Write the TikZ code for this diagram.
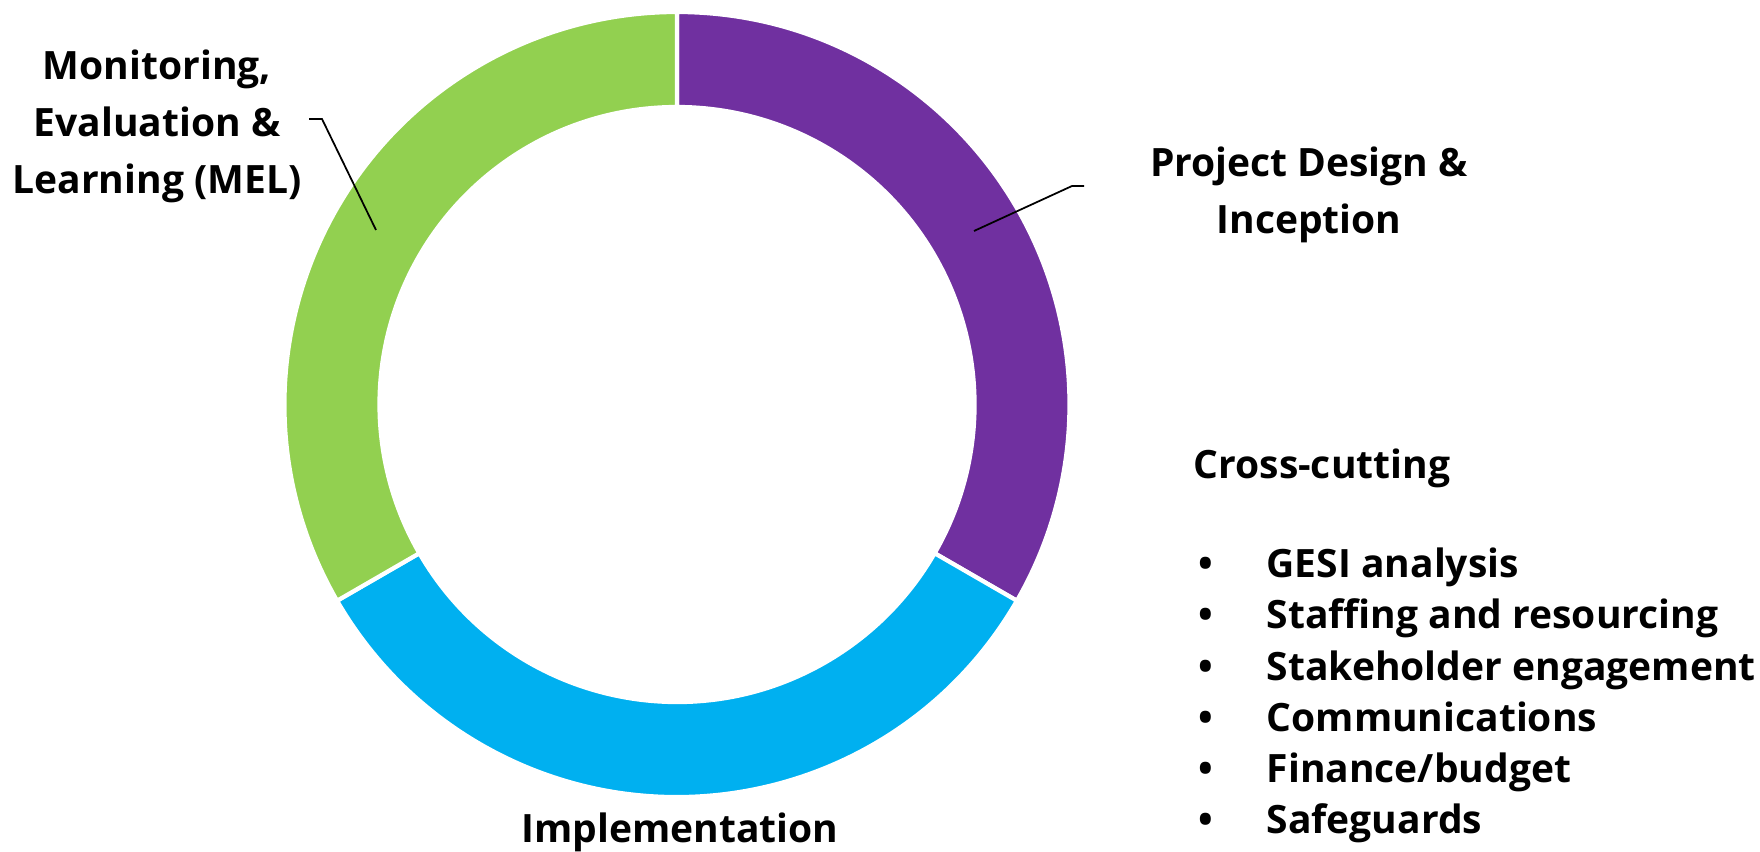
\documentclass[tikz,border=0pt]{standalone}
\usepackage{fontspec}
\setmainfont{Open Sans}
\usetikzlibrary{matrix}
\definecolor{pdpurple}{HTML}{7030A0}
\definecolor{implblue}{HTML}{00B0F0}
\definecolor{melgreen}{HTML}{92D050}
\newcommand{\ringseg}[3]{% colour, start, end
  \filldraw[fill=#1, draw=white, line width=1.2pt]
    ([shift={(c)}]#2:3.925) arc[start angle=#2, end angle=#3, radius=3.925]
    -- ([shift={(c)}]#3:2.975) arc[start angle=#3, end angle=#2, radius=2.975] -- cycle;}

\begin{document}
\begin{tikzpicture}[x=1cm,y=1cm,
  lbl/.style={font=\bfseries\fontsize{11.1}{16.2}\selectfont, align=center, inner sep=0pt}]
  \useasboundingbox (0,0) rectangle (17.6,-8.52);
  \coordinate (c) at (6.77,-4.045);

  \ringseg{pdpurple}{90}{-30}
  \ringseg{implblue}{-30}{-150}
  \ringseg{melgreen}{210}{90}

  \node[lbl, anchor=north] (mel) at (1.57,-0.49) {Monitoring,\\Evaluation \&\\Learning (MEL)};
  \node[lbl, anchor=north] (pdi) at (13.09,-1.46) {Project Design \&\\Inception};
  \node[lbl, anchor=base] (impl) at (6.80,-8.43) {Implementation};
  \node[lbl, anchor=base west] (cross) at (11.93,-4.79) {Cross-cutting};

  \coordinate (melpt) at (3.76,-2.30);
  \coordinate (pdipt) at (9.74,-2.31);
  \draw[line width=0.5pt] (melpt) -- ++(-0.54,1.11) -- ++(-0.13,0);
  \draw[line width=0.5pt] (pdipt) -- ++(0.98,0.45) -- ++(0.12,0);

  \matrix (list) [matrix of nodes, anchor=north west, inner sep=0pt, column sep=0pt,
    nodes={font=\bfseries\fontsize{11.1}{14}\selectfont, inner sep=0pt, text height=0.33cm, text depth=0.182cm, anchor=base west},
    column 1/.style={nodes={text width=0.68cm}}]
  at (11.98,-5.44) {
    \textbullet & GESI analysis \\
    \textbullet & Staffing and resourcing \\
    \textbullet & Stakeholder engagement \\
    \textbullet & Communications \\
    \textbullet & Finance/budget \\
    \textbullet & Safeguards \\
  };
\end{tikzpicture}
\end{document}
